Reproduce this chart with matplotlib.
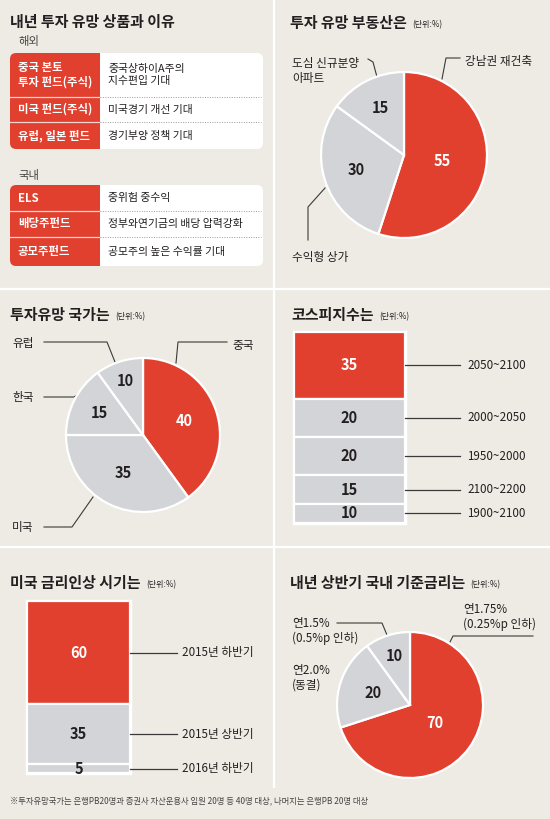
import matplotlib
matplotlib.use("Agg")
import matplotlib.pyplot as plt
from matplotlib.patches import FancyBboxPatch, Rectangle
import matplotlib.patheffects as pe
import numpy as np

# ---------------- data ----------------
overseas_products = ['중국 본토\n투자 펀드(주식)', '미국 펀드(주식)', '유럽, 일본 펀드']
overseas_reasons = ['중국상하이A주의\n지수편입 기대', '미국경기 개선 기대', '경기부양 정책 기대']
domestic_products = ['ELS', '배당주펀드', '공모주펀드']
domestic_reasons = ['중위험 중수익', '정부와연기금의 배당 압력강화', '공모주의 높은 수익률 기대']

realestate_labels = ['강남권 재건축', '수익형 상가', '도심 신규분양\n아파트']
realestate_values = [55, 30, 15]

country_labels = ['중국', '미국', '한국', '유럽']
country_values = [40, 35, 15, 10]

kospi_labels = ['2050~2100', '2000~2050', '1950~2000', '2100~2200', '1900~2100']
kospi_values = [35, 20, 20, 15, 10]

hike_labels = ['2015년 하반기', '2015년 상반기', '2016년 하반기']
hike_values = [60, 35, 5]

rate_labels = ['연1.75%\n(0.25%p 인하)', '연2.0%\n(동결)', '연1.5%\n(0.5%p 인하)']
rate_values = [70, 20, 10]

titles = ['내년 투자 유망 상품과 이유', '투자 유망 부동산은', '투자유망 국가는',
          '코스피지수는', '미국 금리인상 시기는', '내년 상반기 국내 기준금리는']
unit_text = '(단위:%)'
footnote = '※투자유망국가는 은행PB20명과 증권사 자산운용사 임원 20명 등 40명 대상, 나머지는 은행PB 20명 대상'

# ---------------- style ----------------
W, H = 550, 819
plt.rcParams['font.family'] = ['Noto Sans CJK KR', 'DejaVu Sans']
RED = '#e1402f'
GRAY = '#d3d4d7'
BG = '#eeebe5'
INK = '#231f20'
LINE = '#3a3a3a'
MED = 'medium'

fig = plt.figure(figsize=(W / 100, H / 100), dpi=100)
fig.patch.set_facecolor(BG)

cv = fig.add_axes([0, 0, 1, 1])
cv.set_xlim(0, W)
cv.set_ylim(H, 0)
cv.axis('off')
cv.set_zorder(0)


def px_axes(x0, y0, w, h):
    ax = fig.add_axes([x0 / W, 1 - (y0 + h) / H, w / W, h / H])
    ax.set_zorder(2)
    ax.patch.set_alpha(0)
    return ax


# dividers
for y in (289, 547):
    cv.plot([0, W], [y, y], color='white', lw=1.6)
cv.plot([274, 274], [0, 787], color='white', lw=1.6)

# titles
title_pos = [(10, 22), (290, 23), (10, 315), (291, 315), (10, 583), (290, 583)]
for i, (t, (x, y)) in enumerate(zip(titles, title_pos)):
    tt = cv.text(x, y, t, fontsize=10.8, fontweight='bold', color=INK, va='center', ha='left')
    if i > 0:
        cv.annotate(unit_text, xy=(1, 0.42), xycoords=tt, xytext=(4, 0),
                    textcoords='offset points', fontsize=5.8, color=INK, va='center')

cv.text(18, 42, '해외', fontsize=8.2, fontweight=MED, color='#444444', va='center')
cv.text(18, 175, '국내', fontsize=8.2, fontweight=MED, color='#444444', va='center')


# ---------------- tables ----------------
def draw_table(tops, bottoms, products, reasons):
    x0, xm, x1 = 10, 100, 263
    top, bot = tops[0], bottoms[-1]
    cv.add_patch(FancyBboxPatch((x0, top), x1 - x0, bot - top,
                                boxstyle='round,pad=0,rounding_size=6',
                                fc='white', ec='none', zorder=1))
    cv.add_patch(FancyBboxPatch((x0, top), xm - x0, bot - top,
                                boxstyle='round,pad=0,rounding_size=6',
                                fc=RED, ec='none', zorder=2))
    cv.add_patch(Rectangle((xm - 8, top), 8, bot - top, fc=RED, ec='none', zorder=2))
    for k, (t, b, p, r) in enumerate(zip(tops, bottoms, products, reasons)):
        if k > 0:
            cv.plot([x0, xm], [t, t], color='#f3d6d2', lw=0.9, zorder=3)
            cv.plot([xm, x1 - 2], [t, t], color='#9a9a9a', lw=0.7, ls=(0, (1, 1.5)), zorder=3)
        c = (t + b) / 2
        cv.text(18, c, p, fontsize=8.2, fontweight='bold', color='white', va='center',
                ha='left', linespacing=1.15, zorder=4)
        cv.text(108, c, r, fontsize=7.8, fontweight=MED, color=INK, va='center', ha='left',
                linespacing=1.2, zorder=4)


draw_table([53, 97, 122], [97, 122, 149], overseas_products, overseas_reasons)
draw_table([185, 211, 237], [211, 237, 266], domestic_products, domestic_reasons)


# ---------------- pies ----------------
def draw_pie(cx, cy, r, values, dists):
    m = 4
    ax = px_axes(cx - r - m, cy - r - m, 2 * (r + m), 2 * (r + m))
    colors = [RED] + [GRAY] * (len(values) - 1)
    wedges, _ = ax.pie(values, colors=colors, startangle=90, counterclock=False,
                       radius=1, wedgeprops=dict(edgecolor='white', linewidth=1.6))
    lim = (r + m) / r
    ax.set_xlim(-lim, lim)
    ax.set_ylim(-lim, lim)
    ax.set_aspect('equal')
    ax.axis('off')
    for k, (w, v, d) in enumerate(zip(wedges, values, dists)):
        ang = np.deg2rad((w.theta1 + w.theta2) / 2)
        ax.text(d * np.cos(ang), d * np.sin(ang), str(v), fontsize=10.5, fontweight='bold',
                color='white' if k == 0 else INK, ha='center', va='center')
    return ax


def leader(pts):
    xs, ys = zip(*pts)
    cv.plot(xs, ys, color=LINE, lw=0.8, zorder=5)


LBL = dict(fontsize=8.4, fontweight=MED, color=INK, va='center', ha='left', zorder=5)

# real estate
draw_pie(404, 155, 83, realestate_values, [0.47, 0.6, 0.64])
leader([(442, 79), (446, 58), (460, 58)])
cv.text(465, 61, realestate_labels[0], **LBL)
leader([(325, 188), (308, 207), (308, 240)])
cv.text(292, 257, realestate_labels[1], **LBL)
leader([(368, 59), (373, 62), (377, 77)])
cv.text(292, 71, realestate_labels[2], linespacing=1.25, **LBL)

# countries
draw_pie(143, 435, 77, country_values, [0.57, 0.56, 0.64, 0.74])
leader([(176, 363), (178, 342), (227, 342)])
cv.text(232, 345, country_labels[0], **LBL)
leader([(44, 527), (72, 527), (93, 497)])
cv.text(12, 528, country_labels[1], **LBL)
leader([(44, 397), (74, 397), (77, 395)])
cv.text(12, 397, country_labels[2], **LBL)
leader([(44, 342), (107, 342), (115, 362)])
cv.text(12, 343, country_labels[3], **LBL)

# base rate
draw_pie(410, 705, 73, rate_values, [0.42, 0.53, 0.70])
leader([(450, 642), (453, 636), (533, 636)])
cv.text(463, 617, rate_labels[0], linespacing=1.15, **LBL)
leader([(338, 688), (347, 688)])
cv.text(292, 678, rate_labels[1], linespacing=1.15, **LBL)
leader([(337, 623), (382, 623), (387, 635)])
cv.text(292, 631, rate_labels[2], linespacing=1.15, **LBL)


# ---------------- stacked bars ----------------
def draw_stack(x0, y0, w, h, values, labels, line_end, text_x):
    ax = px_axes(x0, y0, w, h)
    ax.set_xlim(0, 1)
    ax.set_ylim(sum(values), 0)
    ax.axis('off')
    frame = Rectangle((0, 0), 1, 1, transform=ax.transAxes, fc='white', ec='white',
                      lw=2.5, clip_on=False, zorder=0,
                      path_effects=[pe.SimplePatchShadow(offset=(1.5, -1.5), alpha=0.35),
                                    pe.Normal()])
    ax.add_patch(frame)
    bottoms = np.concatenate([[0], np.cumsum(values)[:-1]])
    colors = [RED] + [GRAY] * (len(values) - 1)
    ax.bar([0.5] * len(values), values, bottom=bottoms, width=1, color=colors,
           edgecolor='white', linewidth=1.6, zorder=1)
    ext = (line_end - (x0 + w)) / w
    tx = (text_x - (x0 + w)) / w
    for k, (b, v, lab) in enumerate(zip(bottoms, values, labels)):
        c = b + v / 2
        ax.text(0.5, c, str(v), fontsize=10.5, fontweight='bold',
                color='white' if k == 0 else INK, ha='center', va='center', zorder=3)
        ax.plot([1, 1 + ext], [c, c], color=LINE, lw=0.9, clip_on=False)
        ax.text(1 + tx, c, lab, fontsize=8.4, fontweight=MED, color=INK, ha='left',
                va='center', clip_on=False)


draw_stack(294, 332, 111, 191, kospi_values, kospi_labels, 460, 467)
draw_stack(27, 601, 103, 172, hike_values, hike_labels, 177, 182)

# footnote
cv.text(10, 801, footnote, fontsize=6, fontweight=MED, color='#444444', va='center', ha='left')

fig.savefig('out.png', dpi=100, facecolor=BG)
